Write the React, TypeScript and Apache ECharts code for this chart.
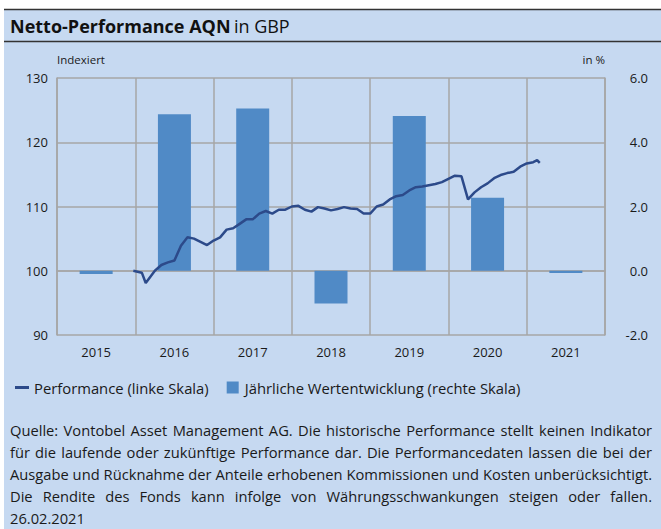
import React, { useEffect, useRef } from "react";
import * as echarts from "echarts";

const years = ["2015", "2016", "2017", "2018", "2019", "2020", "2021"];
const annualReturns = [-0.1, 4.87, 5.05, -1.02, 4.82, 2.27, -0.07];
// months counted from Jan 2015 (12 = end of 2015)
const perfMonths = [11.7, 13, 13.6, 15, 16, 17, 18, 19, 20, 21, 22, 23, 24, 25, 26, 27, 28, 29, 30, 31, 32, 33, 34, 35, 36, 37, 38, 39, 40, 41, 42, 43, 44, 45, 46, 47, 48, 49, 50, 51, 52, 53, 54, 55, 56, 57, 58, 59, 60, 61, 62, 63, 64, 65, 66, 67, 68, 69, 70, 71, 72, 73, 73.6, 74];
const perfValues = [100.0, 99.7, 98.1, 100.0, 100.9, 101.3, 101.6, 103.9, 105.2, 105.0, 104.5, 104.0, 104.7, 105.2, 106.4, 106.6, 107.3, 108.0, 108.0, 108.9, 109.3, 108.9, 109.5, 109.5, 110.0, 110.1, 109.5, 109.2, 109.9, 109.7, 109.4, 109.6, 109.9, 109.7, 109.6, 108.9, 108.9, 110.0, 110.3, 111.1, 111.6, 111.8, 112.5, 113.0, 113.1, 113.3, 113.5, 113.8, 114.3, 114.8, 114.7, 111.1, 112.2, 113.0, 113.6, 114.4, 114.9, 115.2, 115.4, 116.2, 116.7, 116.9, 117.2, 116.8];
const leftTicks = { min: 90, max: 130, interval: 10 };
const rightTicks = { min: -2, max: 6, interval: 2 };
const footnoteLines = [
  "Quelle: Vontobel Asset Management AG. Die historische Performance stellt keinen Indikator",
  "für die laufende oder zukünftige Performance dar. Die Performancedaten lassen die bei der",
  "Ausgabe und Rücknahme der Anteile erhobenen Kommissionen und Kosten unberücksichtigt.",
  "Die Rendite des Fonds kann infolge von Währungsschwankungen steigen oder fallen.",
];
const footnoteLast = "26.02.2021";

const FONT = "'Open Sans', 'Noto Sans', sans-serif";
const BG = "#C6D9F1";
const GRID = "#A6A6A6";
const TEXT = "#1a1a1a";

export default function App() {
  const ref = useRef<HTMLDivElement>(null);
  useEffect(() => {
    if (!ref.current) return;
    const chart = echarts.init(ref.current, undefined, { renderer: "svg" });
    const lineData = perfMonths.map((m, i) => [m, perfValues[i]]);
    chart.setOption({
      animation: false,
      backgroundColor: "transparent",
      textStyle: { fontFamily: FONT },
      grid: { left: 57, top: 78, width: 548, height: 257, containLabel: false },
      graphic: [
        { type: "rect", shape: { x: 4, y: 9, width: 657, height: 520 }, style: { fill: BG }, z: -10 },
        { type: "line", shape: { x1: 4, y1: 9.5, x2: 661, y2: 9.5 }, style: { stroke: "#333", lineWidth: 1.5 } },
        { type: "line", shape: { x1: 4, y1: 41.5, x2: 661, y2: 41.5 }, style: { stroke: "#333", lineWidth: 1.5 } },
        {
          type: "text",
          x: 10,
          y: 26,
          style: {
            text: "{b|Netto-Performance AQN} {n|in GBP}",
            verticalAlign: "middle",
            rich: {
              b: { fontFamily: FONT, fontSize: 18, fontWeight: "bold", fill: "#111" },
              n: { fontFamily: FONT, fontSize: 18, fill: "#111" },
            },
          },
        },
      ],
      legend: {
        left: 10,
        top: 375,
        itemGap: 18,
        itemWidth: 14,
        itemHeight: 12,
        textStyle: { fontFamily: FONT, fontSize: 14.8, color: TEXT },
        data: [
          { name: "Performance (linke Skala)", icon: "path://M0,0h14v3h-14z" },
          { name: "Jährliche Wertentwicklung (rechte Skala)", icon: "path://M0,0h12v12h-12z" },
        ],
      },
      xAxis: [
        {
          type: "category",
          data: years,
          boundaryGap: true,
          axisLine: { show: true, lineStyle: { color: GRID, width: 1.5 } },
          axisTick: { show: false },
          axisLabel: { color: TEXT, fontSize: 13, margin: 10, fontFamily: FONT },
          splitLine: { show: true, lineStyle: { color: GRID, width: 1.5 } },
        },
        { type: "value", min: 0, max: 84, show: false },
      ],
      yAxis: [
        {
          type: "value",
          position: "left",
          ...leftTicks,
          name: "Indexiert",
          nameLocation: "end",
          nameGap: 13,
          nameTextStyle: { align: "left", color: TEXT, fontSize: 11.5, fontFamily: FONT },
          axisLine: { show: true, lineStyle: { color: GRID, width: 1.5 } },
          axisTick: { show: false },
          axisLabel: { color: TEXT, fontSize: 13, margin: 9, fontFamily: FONT },
          splitLine: { show: true, lineStyle: { color: GRID, width: 1.5 } },
        },
        {
          type: "value",
          position: "right",
          ...rightTicks,
          name: "in %",
          nameLocation: "end",
          nameGap: 13,
          nameTextStyle: { align: "right", color: TEXT, fontSize: 11.5, fontFamily: FONT },
          axisLine: { show: true, lineStyle: { color: GRID, width: 1.5 } },
          axisTick: { show: false },
          axisLabel: {
            color: TEXT,
            fontSize: 13,
            margin: 43,
            align: "right",
            fontFamily: FONT,
            formatter: (v: number) => v.toFixed(1),
          },
          splitLine: { show: false },
        },
      ],
      series: [
        {
          name: "Jährliche Wertentwicklung (rechte Skala)",
          type: "bar",
          xAxisIndex: 0,
          yAxisIndex: 1,
          data: annualReturns,
          barWidth: 33,
          itemStyle: { color: "#508AC6" },
          z: 2,
        },
        {
          name: "Performance (linke Skala)",
          type: "line",
          xAxisIndex: 1,
          yAxisIndex: 0,
          data: lineData,
          showSymbol: false,
          symbol: "none",
          lineStyle: { color: "#2C4A8A", width: 2.5 },
          itemStyle: { color: "#2C4A8A" },
          z: 3,
        },
      ],
    });
    return () => chart.dispose();
  }, []);

  const lineStyle: React.CSSProperties = {
    textAlign: "justify",
    textAlignLast: "justify" as any,
    height: 22,
    lineHeight: "22px",
    whiteSpace: "nowrap",
  };

  return (
    <div style={{ position: "absolute", left: 0, top: 0, width: 661, height: 529, background: "#fff", overflow: "hidden" }}>
      <div ref={ref} style={{ position: "absolute", left: 0, top: 0, width: 661, height: 529 }} />
      <div
        style={{
          position: "absolute",
          left: 10,
          top: 419,
          width: 642,
          fontFamily: FONT,
          fontSize: 14.7,
          color: TEXT,
        }}
      >
        {footnoteLines.map((l, i) => (
          <div key={i} style={lineStyle}>
            {l}
          </div>
        ))}
        <div style={{ height: 22, lineHeight: "22px" }}>{footnoteLast}</div>
      </div>
    </div>
  );
}
